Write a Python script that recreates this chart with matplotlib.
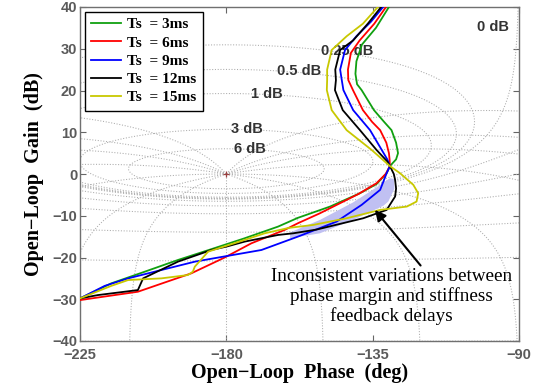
import numpy as np
import matplotlib
matplotlib.use('Agg')
import matplotlib.pyplot as plt

# open-loop responses: (phase deg, gain dB)
green_ph = [-130.0, -134.0, -138.3, -140.0, -140.3, -139.8, -138.4, -134.6, -131.5, -129.2, -127.8, -127.2, -127.8, -129.7,
            -130.7, -133.8, -138.9, -148.1, -158.0, -164.1, -174.4, -184.6, -194.9, -205.1, -215.4, -225.0]
green_db = [40.0, 35.0, 31.0, 27.0, 24.0, 21.5, 20.1, 15.3, 12.5, 10.5, 7.5, 5.0, 3.5, 1.9,
            0.2, -2.4, -4.6, -7.8, -10.5, -12.6, -15.4, -18.0, -20.6, -23.4, -26.2, -29.8]

red_ph = [-130.9, -134.5, -139.0, -141.7, -142.6, -142.5, -141.0, -138.0, -135.2, -132.7, -130.8, -130.0, -129.8, -129.7,
          -131.0, -133.8, -139.4, -151.2, -158.0, -162.1, -172.3, -180.5, -190.8, -207.2, -225.0]
red_db = [40.0, 36.0, 32.0, 29.0, 25.0, 22.5, 20.0, 15.3, 12.5, 10.5, 7.5, 5.0, 3.5, 1.9,
          0.0, -2.2, -4.8, -9.4, -11.8, -13.4, -16.6, -20.0, -23.8, -28.2, -30.2]

blue_ph = [-131.8, -135.5, -140.0, -143.5, -145.0, -144.5, -144.0, -141.0, -135.8, -132.2, -130.5, -129.7,
           -130.7, -132.7, -138.4, -146.1, -158.0, -169.2, -179.5, -189.7, -200.0, -210.2, -217.4, -225.0]
blue_db = [40.0, 36.5, 33.0, 29.7, 25.0, 22.5, 20.1, 15.3, 10.5, 5.75, 3.5, 1.9,
           0.2, -3.8, -7.4, -11.4, -15.0, -18.2, -19.6, -21.0, -23.0, -25.0, -26.8, -29.8]

black_ph = [-132.4, -136.5, -141.0, -145.0, -146.5, -146.3, -146.6, -144.2, -138.9, -133.8, -130.5, -129.7,
            -128.5, -128.1, -127.8, -128.1, -130.7, -137.9, -152.2, -159.4, -164.1, -174.4, -180.0, -184.6,
            -194.9, -205.6, -207.2, -219.5, -225.0]
black_db = [40.0, 36.0, 32.0, 29.7, 25.0, 22.5, 20.1, 15.3, 10.5, 5.75, 3.0, 1.9,
            0.0, -1.4, -3.5, -5.4, -8.6, -10.6, -13.3, -14.2, -14.6, -16.2, -17.4, -18.2,
            -21.0, -25.0, -27.8, -29.0, -29.8]

yellow_ph = [-133.4, -138.0, -143.0, -147.6, -149.0, -149.0, -149.1, -147.6, -143.0, -135.3, -129.7,
             -126.6, -122.5, -121.0, -121.5, -124.5, -132.7, -143.0, -153.3, -160.7, -168.2, -174.4, -185.6,
             -189.7, -190.3, -191.8, -200.0, -210.2, -215.4, -225.0]
yellow_db = [40.0, 36.0, 33.0, 29.7, 25.0, 22.5, 20.1, 15.3, 10.5, 5.75, 1.9,
             0.2, -2.6, -4.6, -6.6, -7.8, -8.6, -10.6, -12.2, -12.9, -14.2, -15.8, -18.6,
             -22.2, -23.4, -24.2, -25.0, -25.4, -26.8, -29.8]

# highlighted band
shade_ph = [-160.4, -151.2, -141.0, -133.8, -129.7, -128.5, -128.3, -130.2, -131.7, -141.0, -151.2, -160.4]
shade_db = [-14.0, -11.0, -6.8, -3.2, -1.0, -1.2, -3.5, -6.6, -7.6, -11.0, -14.2, -15.4]

labels = ['Ts  = 3ms', 'Ts  = 6ms', 'Ts  = 9ms', 'Ts  = 12ms', 'Ts  = 15ms']
colors = ['#10a010', '#ff0000', '#0000ff', '#000000', '#c8c800']

mag_levels = [-40, -20, -12, -6, -3, -1, 0, 0.25, 0.5, 1, 3, 6]
phase_levels = [-350, -340, -330, -310, -270, -230, -210, -150, -120, -90, -50, -30, -20, -10]
grid_txt = ['0 dB', '0.25 dB', '0.5 dB', '1 dB', '3 dB', '6 dB']
grid_txt_ph = [-98.0, -143.0, -157.6, -167.6, -173.7, -172.9]
grid_txt_db = [35.2, 29.5, 24.7, 19.2, 10.7, 5.9]

fig = plt.figure(figsize=(5.38, 3.89), dpi=100)
ax = fig.add_axes([80 / 538, 1 - 341 / 389, 439 / 538, 334 / 389])

# nichols grid
gcol = '#ababab'
g = np.linspace(-41, 41, 700)
ph = np.linspace(-226, -89, 700)
P, G = np.meshgrid(ph, g)
L = 10 ** (G / 20) * np.exp(1j * np.deg2rad(P))
T = L / (1 + L)
ax.contour(P, G, 20 * np.log10(np.abs(T)), levels=mag_levels, colors=gcol,
           linestyles=':', linewidths=0.75)
for lo, hi in [(-226, -180.01), (-179.99, -89)]:
    ph2 = np.linspace(lo, hi, 500)
    P2, G2 = np.meshgrid(ph2, g)
    L2 = 10 ** (G2 / 20) * np.exp(1j * np.deg2rad(P2))
    argT = P2 - np.rad2deg(np.angle(1 + L2))
    ax.contour(P2, G2, argT, levels=phase_levels, colors=gcol,
               linestyles=':', linewidths=0.75)
ax.plot([-180, -180], [-40, 0], ':', color=gcol, lw=0.75)
ax.plot(-180, 0, '+', color='#9a4040', ms=5, mew=0.9)

for t, x, y in zip(grid_txt, grid_txt_ph, grid_txt_db):
    ax.text(x, y, t, ha='center', va='center', fontsize=10.5, fontweight='bold',
            color='#333333', family='Liberation Sans')

ax.fill(shade_ph, shade_db, color='#c0c0f2', lw=0, zorder=2)

curves = [(green_ph, green_db), (red_ph, red_db), (blue_ph, blue_db),
          (black_ph, black_db), (yellow_ph, yellow_db)]
for (x, y), c, lab in zip(curves, colors, labels):
    ax.plot(x, y, color=c, lw=1.3, label=lab, zorder=3)

ax.annotate('Inconsistent variations between\nphase margin and stiffness\nfeedback delays',
            xy=(-134.3, -8.6), xytext=(-129.2, -29.4), ha='center', va='center',
            fontsize=13.8, family='Liberation Serif', linespacing=1.15,
            arrowprops=dict(arrowstyle='-|>', color='black', lw=1.5, mutation_scale=16,
                            shrinkA=0, shrinkB=0, relpos=(0.63, 1.0)), zorder=5)

ax.set_xlim(-225, -90)
ax.set_ylim(-40, 40)
ax.set_xticks([-225, -180, -135, -90])
ax.set_xticklabels(['\u2212225', '\u2212180', '\u2212135', '\u221290'])
ax.set_yticks(range(-40, 41, 10))
ax.set_yticklabels([('\u2212%d' % -v) if v < 0 else str(v) for v in range(-40, 41, 10)])
ax.tick_params(direction='in', top=True, right=True, length=4, color='#666666',
               labelsize=10.5, labelcolor='#5a5a5a', pad=2)
ax.tick_params(axis='x', pad=5)
for lab in ax.get_xticklabels() + ax.get_yticklabels():
    lab.set_fontweight('bold')
    lab.set_family('Liberation Sans')
for s in ax.spines.values():
    s.set_color('#707070')
    s.set_linewidth(1.0)

ax.set_xlabel('Open\u2212Loop  Phase  (deg)', fontsize=14.5, fontweight='bold',
              family='Liberation Serif', labelpad=1)
ax.set_ylabel('Open\u2212Loop  Gain  (dB)', fontsize=14.5, fontweight='bold',
              family='Liberation Serif', labelpad=6)

leg = ax.legend(loc='upper left', prop={'family': 'Liberation Serif', 'weight': 'bold', 'size': 11},
                handlelength=2.0, handletextpad=0.4, labelspacing=0.3, borderpad=0.4,
                fancybox=False, framealpha=1, bbox_to_anchor=(0.0, 1.0), borderaxespad=0.3)
leg.get_frame().set_edgecolor('black')
leg.get_frame().set_linewidth(1.0)

fig.savefig('out.png', dpi=100)
